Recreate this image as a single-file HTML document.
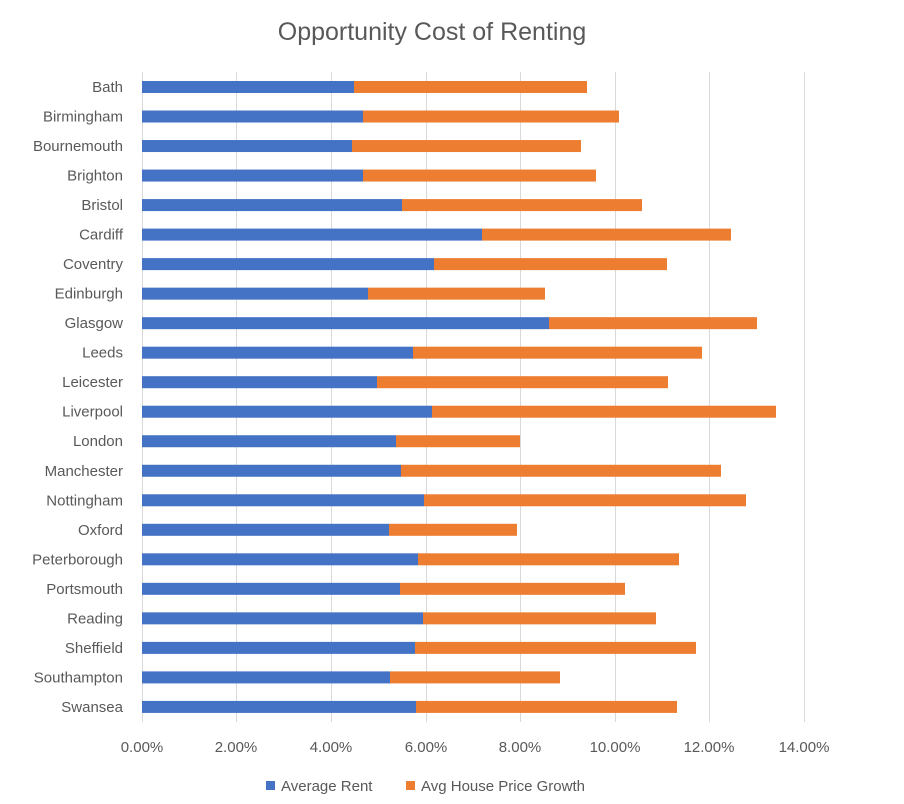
<!DOCTYPE html>
<html><head><meta charset="utf-8"><style>
body{margin:0;background:#fff;}
svg{display:block;font-family:"Liberation Sans",sans-serif;}
</style></head><body>
<svg width="904" height="804" xmlns="http://www.w3.org/2000/svg">
<rect width="904" height="804" fill="#fff"/>
<text x="432" y="40" font-size="25" fill="#595959" text-anchor="middle">Opportunity Cost of Renting</text>
<g stroke="#d9d9d9" stroke-width="1">
<line x1="142.5" y1="72" x2="142.5" y2="722"/>
<line x1="236.5" y1="72" x2="236.5" y2="722"/>
<line x1="331.5" y1="72" x2="331.5" y2="722"/>
<line x1="426.5" y1="72" x2="426.5" y2="722"/>
<line x1="520.5" y1="72" x2="520.5" y2="722"/>
<line x1="615.5" y1="72" x2="615.5" y2="722"/>
<line x1="709.5" y1="72" x2="709.5" y2="722"/>
<line x1="804.5" y1="72" x2="804.5" y2="722"/>
</g>
<g font-size="15" fill="#595959" text-anchor="middle">
<text x="142" y="752">0.00%</text><text x="236" y="752">2.00%</text><text x="331" y="752">4.00%</text><text x="426" y="752">6.00%</text><text x="520" y="752">8.00%</text><text x="615" y="752">10.00%</text><text x="709" y="752">12.00%</text><text x="804" y="752">14.00%</text>
</g>
<g id="bars"></g>
<g font-size="15" fill="#595959" text-anchor="end" id="labels"></g>
<rect x="266" y="781" width="9" height="9" fill="#4472C4"/>
<text x="281" y="791" font-size="15" fill="#595959">Average Rent</text>
<rect x="406" y="781" width="9" height="9" fill="#ED7D31"/>
<text x="421" y="791" font-size="15" fill="#595959">Avg House Price Growth</text>
<script>
var d=[["Bath",354,587],["Birmingham",363,619],["Bournemouth",352,581],["Brighton",363,596],["Bristol",402,642],["Cardiff",482,731],["Coventry",434,667],["Edinburgh",368,545],["Glasgow",549,757],["Leeds",413,702],["Leicester",377,668],["Liverpool",432,776],["London",396,520],["Manchester",401,721],["Nottingham",424,746],["Oxford",389,517],["Peterborough",418,679],["Portsmouth",400,625],["Reading",423,656],["Sheffield",415,696],["Southampton",390,560],["Swansea",416,677]];
var ns="http://www.w3.org/2000/svg",b=document.getElementById("bars"),l=document.getElementById("labels");
d.forEach(function(r,i){var y=87+i*29.52;
function rect(x1,x2,c){var e=document.createElementNS(ns,"rect");e.setAttribute("x",x1);e.setAttribute("y",y-6);e.setAttribute("width",x2-x1);e.setAttribute("height",12);e.setAttribute("fill",c);b.appendChild(e);}
rect(142,r[1],"#4472C4");rect(r[1],r[2],"#ED7D31");
var t=document.createElementNS(ns,"text");t.setAttribute("x",123);t.setAttribute("y",y+5);t.textContent=r[0];l.appendChild(t);});
</script>
</svg>
</body></html>
